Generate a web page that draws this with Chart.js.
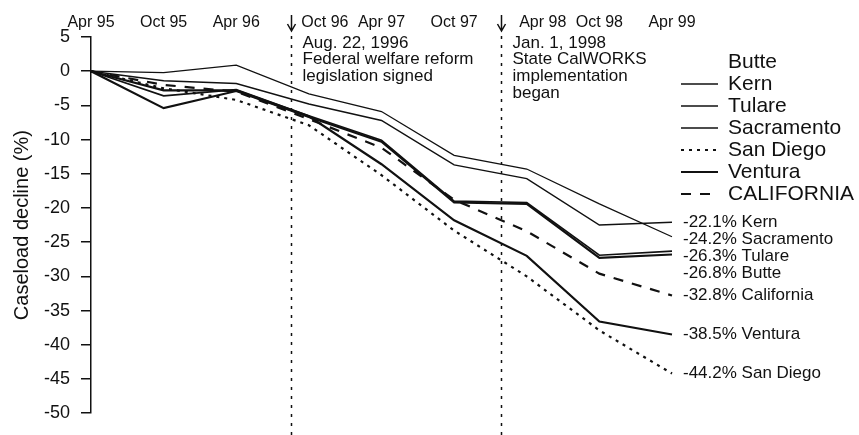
<!DOCTYPE html>
<html>
<head>
<meta charset="utf-8">
<script src="https://cdn.jsdelivr.net/npm/chart.js@4/dist/chart.umd.min.js"></script>
<style>
  html, body { margin: 0; padding: 0; background: #fff; }
  #wrap { width: 859px; height: 435px; position: relative; }
</style>
</head>
<body>
<div id="wrap"><canvas id="chart"></canvas></div>
<script>
const xLabels = ['Apr 95', 'Oct 95', 'Apr 96', 'Oct 96', 'Apr 97', 'Oct 97', 'Apr 98', 'Oct 98', 'Apr 99'];
const yTicks = [5, 0, -5, -10, -15, -20, -25, -30, -35, -40, -45, -50];

// caseload change since Apr 95, percent
const butte      = [0, -5.4, -2.9, -6.7, -10.3, -19.2, -19.4, -27.3, -26.8];
const kern       = [0, -1.4, -1.8, -4.8,  -7.2, -13.7, -15.7, -22.5, -22.1];
const tulare     = [0, -3.6, -2.7, -6.5, -10.1, -19.0, -19.2, -26.9, -26.3];
const sacramento = [0, -0.2,  0.9, -3.3,  -5.9, -12.3, -14.3, -19.4, -24.2];
const sanDiego   = [0, -2.5, -4.2, -7.9, -15.2, -23.3, -30.0, -37.9, -44.2];
const ventura    = [0, -2.8, -2.8, -6.6, -13.6, -21.8, -27.0, -36.6, -38.5];
const california = [0, -2.0, -3.0, -7.0, -11.2, -18.8, -23.4, -29.6, -32.8];

// policy events, as position on the 6-month axis
const eventAt = [2.75, 5.65];
const eventText = [
  ['Aug. 22, 1996', 'Federal welfare reform', 'legislation signed'],
  ['Jan. 1, 1998', 'State CalWORKS', 'implementation', 'began']
];

const FONT = '"Liberation Sans", Arial, Helvetica, sans-serif';
const INK = '#111';

const series = [
  { label: 'Butte',      data: butte,      width: 2.2, dash: [],      legend: false, endName: 'Butte' },
  { label: 'Kern',       data: kern,       width: 1.5, dash: [],      legend: true,  endName: 'Kern' },
  { label: 'Tulare',     data: tulare,     width: 1.6, dash: [],      legend: true,  endName: 'Tulare' },
  { label: 'Sacramento', data: sacramento, width: 1.3, dash: [],      legend: true,  endName: 'Sacramento' },
  { label: 'San Diego',  data: sanDiego,   width: 2.2, dash: [3, 5],  legend: true,  endName: 'San Diego' },
  { label: 'Ventura',    data: ventura,    width: 2.2, dash: [],      legend: true,  endName: 'Ventura' },
  { label: 'CALIFORNIA', data: california, width: 2.2, dash: [10, 9], legend: true,  endName: 'California' }
];

const annotate = {
  id: 'annotate',
  afterDatasetsDraw(chart) {
    const { ctx, scales: { x, y }, chartArea } = chart;
    ctx.save();

    // event markers with arrows and notes
    eventAt.forEach((ev, k) => {
      const px = Math.round(x.getPixelForValue(ev)) + 0.5;
      ctx.strokeStyle = INK;
      ctx.lineWidth = 1.5;
      ctx.setLineDash([3, 6]);
      ctx.beginPath();
      ctx.moveTo(px, 36);
      ctx.lineTo(px, 435);
      ctx.stroke();
      ctx.setLineDash([]);
      ctx.beginPath();
      ctx.moveTo(px, 15);
      ctx.lineTo(px, 31);
      ctx.moveTo(px - 4, 24);
      ctx.lineTo(px, 31);
      ctx.lineTo(px + 4, 24);
      ctx.stroke();

      ctx.fillStyle = INK;
      ctx.font = '17px ' + FONT;
      ctx.textAlign = 'left';
      ctx.textBaseline = 'middle';
      eventText[k].forEach((line, i) => ctx.fillText(line, px + 11, 43 + i * 16.8));
    });

    // legend block
    ctx.font = '21px ' + FONT;
    ctx.textBaseline = 'middle';
    series.forEach((s, i) => {
      const ly = 62 + i * 22;
      if (s.legend) {
        ctx.strokeStyle = INK;
        ctx.lineWidth = s.width;
        ctx.setLineDash(s.dash);
        ctx.beginPath();
        ctx.moveTo(681, ly);
        ctx.lineTo(718, ly);
        ctx.stroke();
      }
      ctx.setLineDash([]);
      ctx.fillText(s.label, 728, ly);
    });

    // end-of-line value labels, nudged apart where they collide
    const ends = series.map(s => {
      const v = s.data[s.data.length - 1];
      return { text: v.toFixed(1) + '% ' + s.endName, y: y.getPixelForValue(v) };
    }).sort((a, b) => a.y - b.y);
    for (let i = 1; i < ends.length; i++) {
      if (ends[i].y - ends[i - 1].y < 17) ends[i].y = ends[i - 1].y + 17;
    }
    ctx.font = '17px ' + FONT;
    ends.forEach(e => ctx.fillText(e.text, chartArea.right + 11, e.y));

    ctx.restore();
  }
};

new Chart(document.getElementById('chart'), {
  type: 'line',
  data: {
    labels: xLabels,
    datasets: series.map(s => ({
      label: s.label,
      data: s.data,
      borderColor: INK,
      borderWidth: s.width,
      borderDash: s.dash,
      pointRadius: 0,
      tension: 0,
      fill: false
    }))
  },
  options: {
    responsive: true,
    maintainAspectRatio: false,
    animation: false,
    layout: { padding: { left: 0, right: 187, top: 0, bottom: 9 } },
    plugins: {
      legend: { display: false },
      tooltip: { enabled: false }
    },
    scales: {
      x: {
        position: 'top',
        offset: false,
        border: { display: false },
        grid: { display: false, drawTicks: false },
        ticks: {
          color: INK,
          padding: 5,
          maxRotation: 0,
          autoSkip: false,
          font: { family: FONT, size: 16 },
          // push a label clear of an event arrow just before it
          callback: (v, i) => (eventAt.some(ev => ev < i && ev > i - 0.5) ? '\u2002\u2002\u2002\u2002' : '') + xLabels[i]
        },
        afterFit: s => { s.height = 37; }
      },
      y: {
        min: -50,
        max: 5,
        border: { display: true, color: INK, width: 1.5 },
        grid: { drawOnChartArea: false, drawTicks: true, tickLength: 10, color: INK, lineWidth: 1.5 },
        afterBuildTicks: s => { s.ticks = yTicks.map(v => ({ value: v })); },
        ticks: {
          color: INK,
          padding: 11,
          font: { family: FONT, size: 18 }
        },
        title: {
          display: true,
          text: 'Caseload decline (%)',
          color: INK,
          font: { family: FONT, size: 20 },
          padding: { top: 10, bottom: 0 }
        },
        afterFit: s => { s.width = 91; }
      }
    }
  },
  plugins: [annotate]
});
</script>
</body>
</html>
